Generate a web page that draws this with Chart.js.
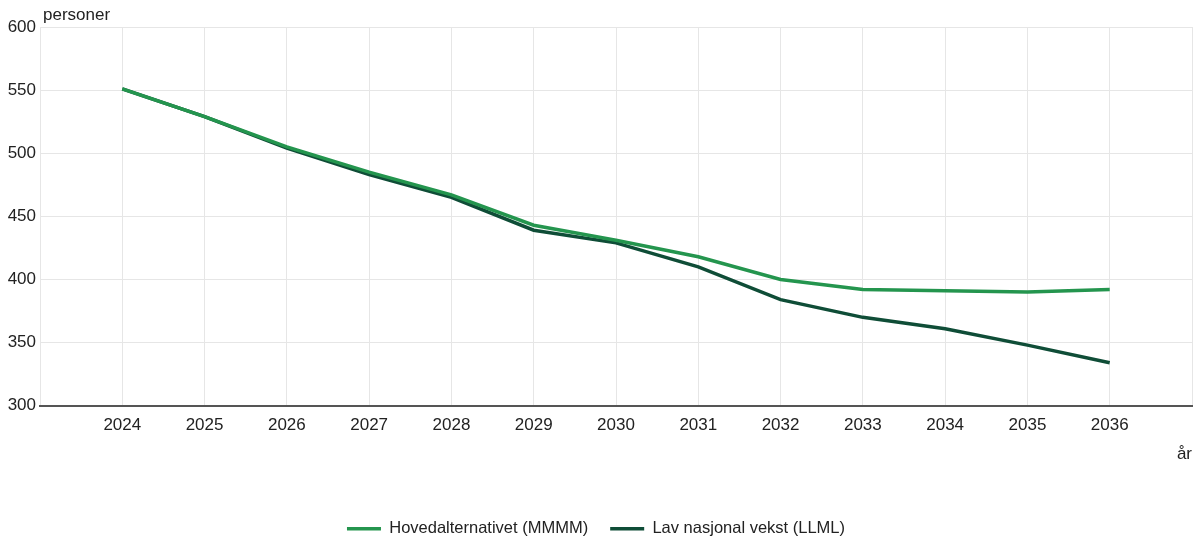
<!DOCTYPE html>
<html>
<head>
<meta charset="utf-8">
<script src="https://cdn.jsdelivr.net/npm/chart.js@4/dist/chart.umd.min.js"></script>
<style>
  html, body { margin: 0; padding: 0; background: #fff; }
  #wrap { width: 1195px; height: 541px; }
</style>
</head>
<body>
<div id="wrap"><canvas id="grafico"></canvas></div>
<script>
// ---------------- dati ----------------
const anni = [2024, 2025, 2026, 2027, 2028, 2029, 2030, 2031, 2032, 2033, 2034, 2035, 2036];
const hovedalternativet = [551, 529, 505, 485, 467, 443, 431, 418, 400, 392, 391, 390, 392];
const lavNasjonalVekst = [551, 529, 504, 483, 465, 439, 429, 410, 384, 370, 361, 348, 334];
const yTicks = [300, 350, 400, 450, 500, 550, 600];
// ---------------- dati ----------------

const punti = (valori) => anni.map((a, i) => ({ x: a, y: valori[i] }));

// scritta "personer" sopra l'asse y
const titoloY = {
  id: 'titoloY',
  afterDraw(chart) {
    const ctx = chart.ctx;
    ctx.save();
    ctx.font = '17px "Liberation Sans", Arial, sans-serif';
    ctx.fillStyle = '#222';
    ctx.textAlign = 'left';
    ctx.textBaseline = 'bottom';
    ctx.fillText('personer', chart.chartArea.left + 3, chart.chartArea.top - 3);
    ctx.restore();
  }
};

Chart.defaults.font.family = '"Liberation Sans", Arial, sans-serif';
Chart.defaults.font.size = 17;
Chart.defaults.color = '#222';

new Chart(document.getElementById('grafico').getContext('2d'), {
  type: 'line',
  data: {
    datasets: [{
      label: 'Hovedalternativet (MMMM)',
      data: punti(hovedalternativet),
      borderColor: '#24954e',
      backgroundColor: '#24954e',
      borderWidth: 3.5,
      pointRadius: 0,
      tension: 0
    }, {
      label: 'Lav nasjonal vekst (LLML)',
      data: punti(lavNasjonalVekst),
      borderColor: '#0f4d37',
      backgroundColor: '#0f4d37',
      borderWidth: 3.5,
      pointRadius: 0,
      tension: 0
    }]
  },
  options: {
    responsive: true,
    maintainAspectRatio: false,
    animation: false,
    layout: { padding: { top: 27, right: 3, left: 0, bottom: -6 } },
    scales: {
      x: {
        type: 'linear',
        min: anni[0] - 1,
        max: anni[anni.length - 1] + 1,
        afterFit: (s) => { s.paddingLeft = 0; s.paddingRight = 0; },
        ticks: {
          stepSize: 1,
          padding: 9,
          callback: (v) => anni.includes(v) ? String(v) : ''
        },
        grid: { color: '#e6e6e6', drawTicks: false },
        border: { color: '#555', width: 2 },
        title: { display: true, text: 'år', align: 'end', padding: { top: 0, bottom: 34 } }
      },
      y: {
        min: yTicks[0],
        max: yTicks[yTicks.length - 1],
        afterBuildTicks: (s) => { s.ticks = yTicks.map(v => ({ value: v })); },
        afterFit: (s) => { s.width = 40; },
        ticks: { padding: 4 },
        grid: { color: '#e6e6e6', drawTicks: false },
        border: { display: false }
      }
    },
    plugins: {
      legend: {
        position: 'bottom',
        labels: {
          usePointStyle: true,
          pointStyle: 'line',
          pointStyleWidth: 34,
          padding: 22,
          color: '#222',
          font: { size: 16.5 }
        }
      },
      tooltip: { enabled: false }
    }
  },
  plugins: [titoloY]
});
</script>
</body>
</html>
